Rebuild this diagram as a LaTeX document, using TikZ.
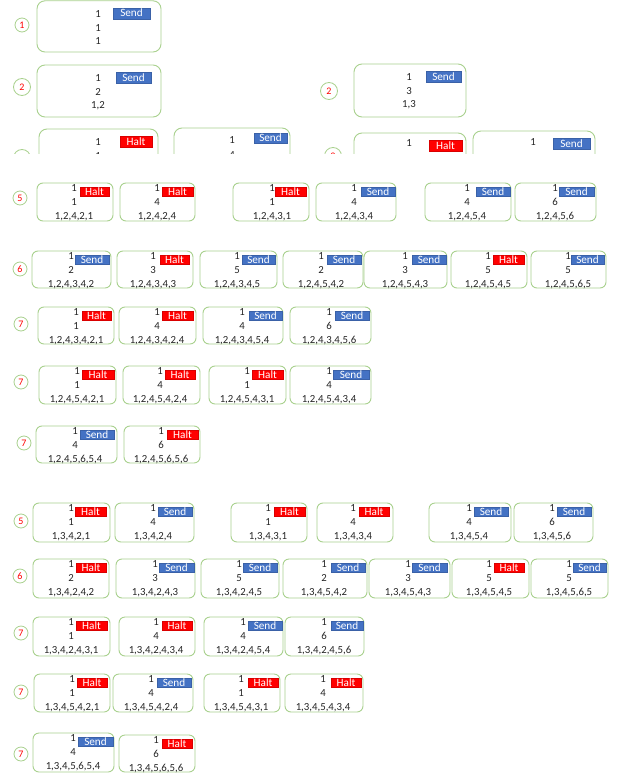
\documentclass[tikz,border=0pt]{standalone}
\usepackage{fontspec}
\setmainfont{Carlito}
\usetikzlibrary{fit}
\definecolor{boxg}{HTML}{A9D18E}
\definecolor{sendb}{HTML}{4472C4}
\definecolor{haltr}{HTML}{FF0000}
\definecolor{txt}{HTML}{262626}
\def\crad{6pt}
\def\lA{8.5}\def\lB{22.5}\def\lC{36.5}\def\bA{4}\def\bB{13}
\tikzset{
  cellbox/.style={draw=boxg, line width=0.9pt, rounded corners=\crad, inner sep=0pt},
  celltext/.style={anchor=base, inner sep=0pt, text=txt, font=\fontsize{10.8}{12}\selectfont},
  tagbase/.style={line width=0.3pt, inner sep=0pt, text=white, text height=7.2pt, text depth=0pt, font=\fontsize{11.2}{10}\selectfont},
  tagSend/.style={tagbase, fill=sendb, draw=sendb!85!black},
  tagHalt/.style={tagbase, fill=haltr, draw=haltr!85!black},
  stepnum/.style={circle, draw=boxg, line width=0.8pt, inner sep=0pt, minimum size=14pt, text=red, font=\fontsize{10}{10}\selectfont},
  bigstepnum/.style={stepnum, minimum size=17pt}
}
\newcommand\cell[8]{\def\cN{#1}\def\cXa{#2}\def\cYa{#3}\def\cXb{#4}\def\cYb{#5}\def\cTx{#6}\def\cBa{#7}\def\cBb{#8}\cellB}
\newcommand\cellB[3]{%
  \node[cellbox, fit={(\cXa,\cYa) (\cXb,\cYb)}] (\cN) {};
  \pgfmathsetmacro\tgw{\cBb-\cBa}%
  \pgfmathsetmacro\tgh{\bB-\bA}%
  \pgfmathsetmacro\tgx{(\cBa+\cBb)/2}%
  \pgfmathsetmacro\tgy{\cYa+(\bA+\bB)/2}%
  \node[tag#1, minimum width=\tgw pt, minimum height=\tgh pt] (\cN-t) at (\tgx,\tgy) {#1};
  \node[celltext] (\cN-1) at (\cTx,\cYa+\lA) {1};
  \node[celltext] (\cN-2) at (\cTx,\cYa+\lB) {#2};
  \node[celltext] (\cN-3) at (\cTx,\cYa+\lC) {#3};
}
\begin{document}
\begin{tikzpicture}[x=1pt,y=-1pt]
\useasboundingbox (0,0) rectangle (618,778);
\fill[white] (0,0) rectangle (618,778);

% ---------- top rows ----------
\def\crad{8pt}
\def\lA{16.5}\def\lB{30.5}\def\lC{43.5}\def\bA{7}\def\bB{18}
\node[bigstepnum, minimum size=14pt] (s1) at (22,25) {1};
\cell{r1}{37}{0.8}{161}{52}{98}{113}{150}{Send}{1}{1}
\node[bigstepnum] (s2a) at (22,87) {2};
\cell{r2a}{37}{65}{161}{117}{98}{116}{151}{Send}{2}{1,2}
\node[bigstepnum] (s2b) at (329,91) {2};
\cell{r2b}{354}{64}{466}{117}{409}{426}{461}{Send}{3}{1,3}

\begin{scope}
\clip (0,120) rectangle (618,154);
\node[bigstepnum] (s3a) at (22,158) {3};
\cell{r3a}{39}{129}{158}{181}{98}{120}{152}{Halt}{1}{1,2,1}
\def\bA{5}\def\bB{15}\def\lA{15.5}
\cell{r3b}{174}{128}{290}{180}{232}{254}{287}{Send}{4}{1,2,4}
\def\bA{7}\def\bB{18}\def\lA{13.5}
\node[bigstepnum] (s3b) at (333,156) {3};
\cell{r3c}{354}{133}{466}{185}{409}{429}{462}{Halt}{1}{1,3,1}
\def\lA{14.5}
\cell{r3d}{473}{131}{595}{183}{533}{553}{590}{Send}{4}{1,3,4}
\end{scope}

% ---------- lower rows ----------
\def\crad{6pt}
\def\lA{8.5}\def\lB{22.5}\def\lC{36.5}\def\bA{4}\def\bB{13}

% row 5 (1,2,...)
\node[stepnum] (s5a) at (20,198) {5};
\cell{a5a}{37}{183}{113}{221}{74}{80}{109}{Halt}{1}{1,2,4,2,1}
\cell{a5b}{120}{183}{195}{221}{157}{162}{193}{Halt}{4}{1,2,4,2,4}
\cell{a5c}{233}{183}{309}{221}{272}{275}{306}{Halt}{1}{1,2,4,3,1}
\cell{a5d}{316}{183}{396}{221}{354}{361}{395}{Send}{4}{1,2,4,3,4}
\cell{a5e}{425}{183}{511}{221}{467}{476}{510}{Send}{4}{1,2,4,5,4}
\cell{a5f}{515}{183}{596}{221}{555}{559}{594}{Send}{6}{1,2,4,5,6}

% row 6
\node[stepnum] (s6a) at (20,269) {6};
\cell{a6a}{32}{251}{111}{288}{71}{75}{109}{Send}{2}{1,2,4,3,4,2}
\cell{a6b}{117}{251}{193}{288}{153}{160}{189}{Halt}{3}{1,2,4,3,4,3}
\cell{a6c}{200}{251}{277}{288}{237}{242}{275}{Send}{5}{1,2,4,3,4,5}
\cell{a6d}{283}{251}{363}{288}{321}{327}{361}{Send}{2}{1,2,4,5,4,2}
\cell{a6e}{364}{251}{447}{288}{405}{412}{446}{Send}{3}{1,2,4,5,4,3}
\cell{a6f}{451}{251}{527}{288}{488}{493}{524}{Halt}{5}{1,2,4,5,4,5}
\cell{a6g}{531}{251}{606}{288}{568}{571}{604}{Send}{5}{1,2,4,5,6,5}

% row 7a
\node[stepnum] (s7a) at (21,324) {7};
\cell{a7a}{38}{307}{114}{344}{76}{82}{111}{Halt}{1}{1,2,4,3,4,2,1}
\cell{a7b}{119}{307}{196}{344}{157}{162}{193}{Halt}{4}{1,2,4,3,4,2,4}
\cell{a7c}{203}{307}{283}{344}{242}{249}{282}{Send}{4}{1,2,4,3,4,5,4}
\cell{a7d}{290}{307}{371}{344}{329}{335}{369}{Send}{6}{1,2,4,3,4,5,6}

% row 7b
\node[stepnum] (s7b) at (21,382) {7};
\cell{a8a}{39}{366}{116}{404}{77}{82}{114}{Halt}{1}{1,2,4,5,4,2,1}
\cell{a8b}{123}{366}{200}{404}{160}{165}{195}{Halt}{4}{1,2,4,5,4,2,4}
\cell{a8c}{209}{366}{286}{404}{247}{252}{283}{Halt}{1}{1,2,4,5,4,3,1}
\cell{a8d}{290}{366}{371}{404}{329}{333}{369}{Send}{4}{1,2,4,5,4,3,4}

% row 7c
\node[stepnum] (s7c) at (24,443) {7};
\cell{a9a}{36}{426}{117}{463}{75}{80}{114}{Send}{4}{1,2,4,5,6,5,4}
\cell{a9b}{124}{426}{200}{463}{161}{167}{198}{Halt}{6}{1,2,4,5,6,5,6}

% ---------- lower block (1,3,...) ----------
\node[stepnum] (t5) at (21,521) {5};
\cell{b5a}{33}{503}{110}{542}{71}{75}{106}{Halt}{1}{1,3,4,2,1}
\cell{b5b}{115}{503}{194}{542}{153}{158}{192}{Send}{4}{1,3,4,2,4}
\cell{b5c}{231}{503}{307}{542}{268}{274}{305}{Halt}{1}{1,3,4,3,1}
\cell{b5d}{317}{503}{393}{542}{353}{359}{389}{Halt}{4}{1,3,4,3,4}
\cell{b5e}{429}{503}{511}{542}{469}{474}{508}{Send}{4}{1,3,4,5,4}
\cell{b5f}{514}{503}{593}{542}{552}{557}{591}{Send}{6}{1,3,4,5,6}

\node[stepnum] (t6) at (20,576) {6};
\cell{b6a}{33}{559}{109}{598}{71}{76}{106}{Halt}{2}{1,3,4,2,4,2}
\cell{b6b}{116}{559}{195}{598}{155}{159}{194}{Send}{3}{1,3,4,2,4,3}
\cell{b6c}{201}{559}{279}{598}{239}{243}{277}{Send}{5}{1,3,4,2,4,5}
\cell{b6d}{283}{559}{367}{598}{324}{331}{365}{Send}{2}{1,3,4,5,4,2}
\cell{b6e}{369}{559}{450}{598}{408}{412}{447}{Send}{3}{1,3,4,5,4,3}
\cell{b6f}{452}{559}{529}{598}{489}{494}{524}{Halt}{5}{1,3,4,5,4,5}
\cell{b6g}{531}{559}{608}{598}{569}{573}{606}{Send}{5}{1,3,4,5,6,5}

\node[stepnum] (t7a) at (21,633) {7};
\cell{b7a}{33}{617}{110}{656}{71}{76}{107}{Halt}{1}{1,3,4,2,4,3,1}
\cell{b7b}{119}{617}{195}{656}{156}{162}{192}{Halt}{4}{1,3,4,2,4,3,4}
\cell{b7c}{204}{617}{283}{656}{243}{248}{282}{Send}{4}{1,3,4,2,4,5,4}
\cell{b7d}{285}{617}{364}{656}{324}{331}{363}{Send}{6}{1,3,4,2,4,5,6}

\node[stepnum] (t7b) at (21,692) {7};
\cell{b8a}{34}{674}{110}{712}{72}{77}{107}{Halt}{1}{1,3,4,5,4,2,1}
\cell{b8b}{113}{674}{193}{712}{151}{157}{191}{Send}{4}{1,3,4,5,4,2,4}
\cell{b8c}{204}{674}{280}{712}{241}{248}{278}{Halt}{1}{1,3,4,5,4,3,1}
\cell{b8d}{285}{674}{363}{712}{323}{331}{361}{Halt}{4}{1,3,4,5,4,3,4}

\node[stepnum] (t7c) at (21,754) {7};
\cell{b9a}{33}{733}{114}{772}{73}{78}{113}{Send}{4}{1,3,4,5,6,5,4}
\cell{b9b}{119}{735}{195}{772}{156}{162}{192}{Halt}{6}{1,3,4,5,6,5,6}
\end{tikzpicture}
\end{document}
